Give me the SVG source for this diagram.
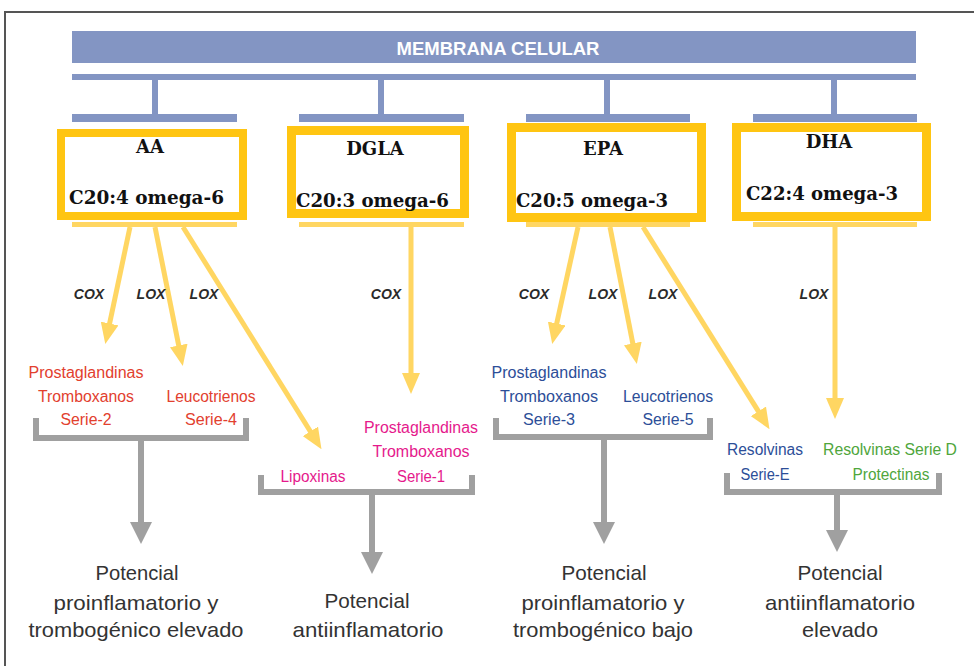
<svg xmlns="http://www.w3.org/2000/svg" width="974" height="666" viewBox="0 0 974 666">
<style>
.blue{fill:#8395C3}
.ybar{fill:#FFD662}
.box{fill:#fff;stroke:#FFC512}
.bt{font-family:"DejaVu Serif","Liberation Serif",serif;font-weight:bold;font-size:18px;fill:#111}
.enz{font-family:"Liberation Sans",Arial,sans-serif;font-weight:bold;font-style:italic;font-size:14px;fill:#2a2a2a;text-anchor:middle}
.lb{font-family:"Liberation Sans",Arial,sans-serif;font-size:16px;text-anchor:middle}
.red{fill:#E2402E}.pink{fill:#E5198C}.nav{fill:#2C4E98}.grn{fill:#4FA63C}
.res{font-family:"Liberation Sans",Arial,sans-serif;font-size:21px;fill:#333;text-anchor:middle}
.ya{fill:none;stroke:#FFD662;stroke-width:5}
.ga{fill:none;stroke:#A0A0A0;stroke-width:6}
</style>
<defs>
<marker id="yh" markerUnits="userSpaceOnUse" markerWidth="21" markerHeight="18" viewBox="0 0 21 18" refX="1" refY="9" orient="auto"><path d="M0,0 L21,9 L0,18 z" fill="#FFD662"/></marker>
<marker id="gh" markerUnits="userSpaceOnUse" markerWidth="22" markerHeight="22" viewBox="0 0 22 22" refX="1" refY="11" orient="auto"><path d="M0,0 L22,11 L0,22 z" fill="#A0A0A0"/></marker>
</defs>
<rect width="974" height="666" fill="#fff"/>
<path d="M5,666 V12 H974" fill="none" stroke="#555" stroke-width="2"/>

<g id="membrana">
<rect class="blue" x="72" y="31" width="844" height="32"/>
<text x="498" y="55" font-family="Liberation Sans,Arial,sans-serif" font-weight="bold" font-size="18" fill="#fff" text-anchor="middle" textLength="203" lengthAdjust="spacingAndGlyphs">MEMBRANA CELULAR</text>
<rect class="blue" x="72" y="74" width="844" height="6"/>
<rect class="blue" x="152" y="80" width="6" height="34"/>
<rect class="blue" x="378" y="80" width="6" height="34"/>
<rect class="blue" x="604" y="80" width="6" height="34"/>
<rect class="blue" x="831" y="80" width="6" height="34"/>
<rect class="blue" x="72" y="114" width="165" height="8"/>
<rect class="blue" x="299" y="114" width="165" height="8"/>
<rect class="blue" x="526" y="114" width="164" height="8"/>
<rect class="blue" x="753" y="114" width="164" height="8"/>
</g>

<g id="bars">
<rect class="ybar" x="72" y="222" width="165" height="5"/>
<rect class="ybar" x="299" y="222" width="165" height="5"/>
<rect class="ybar" x="526" y="222" width="164" height="5"/>
<rect class="ybar" x="753" y="222" width="164" height="5"/>
</g>

<g id="connectors">
<line class="ya" x1="130" y1="227" x2="109.4" y2="324.5" marker-end="url(#yh)"/>
<line class="ya" x1="155" y1="227" x2="178.9" y2="346.4" marker-end="url(#yh)"/>
<line class="ya" x1="183" y1="227" x2="310.9" y2="432.2" marker-end="url(#yh)"/>
<line class="ya" x1="411" y1="227" x2="411" y2="374" marker-end="url(#yh)"/>
<line class="ya" x1="578" y1="227" x2="556.5" y2="324.5" marker-end="url(#yh)"/>
<line class="ya" x1="610" y1="227" x2="633" y2="344.4" marker-end="url(#yh)"/>
<line class="ya" x1="643" y1="227" x2="758.9" y2="412.2" marker-end="url(#yh)"/>
<line class="ya" x1="835" y1="227" x2="835" y2="399" marker-end="url(#yh)"/>
<path class="ga" d="M36,418 V438 H246 V418"/>
<path class="ga" d="M261,475 V492 H472 V475"/>
<path class="ga" d="M496,418 V437 H710 V418"/>
<path class="ga" d="M727,473 V492 H939 V473"/>
<line class="ga" x1="141" y1="438" x2="141" y2="523" marker-end="url(#gh)"/>
<line class="ga" x1="372" y1="492" x2="372" y2="553" marker-end="url(#gh)"/>
<line class="ga" x1="604" y1="437" x2="604" y2="523" marker-end="url(#gh)"/>
<line class="ga" x1="837" y1="492" x2="837" y2="531" marker-end="url(#gh)"/>
<text class="enz" x="89" y="299">COX</text>
<text class="enz" x="151" y="299">LOX</text>
<text class="enz" x="204" y="299">LOX</text>
<text class="enz" x="386" y="299">COX</text>
<text class="enz" x="534" y="299">COX</text>
<text class="enz" x="603" y="299">LOX</text>
<text class="enz" x="663" y="299">LOX</text>
<text class="enz" x="814" y="299">LOX</text>
</g>

<g id="AA">
<rect class="box" x="61" y="133" width="182" height="83" stroke-width="8"/>
<text class="bt" x="150" y="153" text-anchor="middle">AA</text>
<text class="bt" x="69" y="204" textLength="155" lengthAdjust="spacingAndGlyphs">C20:4 omega-6</text>
</g>
<g id="DGLA">
<rect class="box" x="291.5" y="130.5" width="173" height="83" stroke-width="9"/>
<text class="bt" x="375" y="155" text-anchor="middle">DGLA</text>
<text class="bt" x="296" y="207" textLength="153" lengthAdjust="spacingAndGlyphs">C20:3 omega-6</text>
</g>
<g id="EPA">
<rect class="box" x="511.5" y="127.5" width="190" height="90" stroke-width="9"/>
<text class="bt" x="603" y="155" text-anchor="middle">EPA</text>
<text class="bt" x="516" y="207" textLength="152" lengthAdjust="spacingAndGlyphs">C20:5 omega-3</text>
</g>
<g id="DHA">
<rect class="box" x="736.5" y="127.5" width="190" height="89" stroke-width="9"/>
<text class="bt" x="829" y="148" text-anchor="middle">DHA</text>
<text class="bt" x="746" y="200" textLength="152" lengthAdjust="spacingAndGlyphs">C22:4 omega-3</text>
</g>

<g id="pg2">
<text class="lb red" x="86" y="378" textLength="115" lengthAdjust="spacingAndGlyphs">Prostaglandinas</text>
<text class="lb red" x="86" y="402" textLength="96" lengthAdjust="spacingAndGlyphs">Tromboxanos</text>
<text class="lb red" x="86" y="425" textLength="51" lengthAdjust="spacingAndGlyphs">Serie-2</text>
</g>
<g id="lt4">
<text class="lb red" x="211" y="402" textLength="89" lengthAdjust="spacingAndGlyphs">Leucotrienos</text>
<text class="lb red" x="211" y="425" textLength="52" lengthAdjust="spacingAndGlyphs">Serie-4</text>
</g>
<g id="lipoxinas">
<text class="lb pink" x="313" y="482" textLength="65" lengthAdjust="spacingAndGlyphs">Lipoxinas</text>
</g>
<g id="pg1">
<text class="lb pink" x="421" y="433" textLength="114" lengthAdjust="spacingAndGlyphs">Prostaglandinas</text>
<text class="lb pink" x="421" y="457" textLength="97" lengthAdjust="spacingAndGlyphs">Tromboxanos</text>
<text class="lb pink" x="421" y="482" textLength="48" lengthAdjust="spacingAndGlyphs">Serie-1</text>
</g>
<g id="pg3">
<text class="lb nav" x="549" y="378" textLength="115" lengthAdjust="spacingAndGlyphs">Prostaglandinas</text>
<text class="lb nav" x="549" y="402" textLength="98" lengthAdjust="spacingAndGlyphs">Tromboxanos</text>
<text class="lb nav" x="549" y="425" textLength="52" lengthAdjust="spacingAndGlyphs">Serie-3</text>
</g>
<g id="lt5">
<text class="lb nav" x="668" y="402" textLength="90" lengthAdjust="spacingAndGlyphs">Leucotrienos</text>
<text class="lb nav" x="668" y="425" textLength="51" lengthAdjust="spacingAndGlyphs">Serie-5</text>
</g>
<g id="resE">
<text class="lb nav" x="765" y="455" textLength="76" lengthAdjust="spacingAndGlyphs">Resolvinas</text>
<text class="lb nav" x="765" y="480" textLength="49" lengthAdjust="spacingAndGlyphs">Serie-E</text>
</g>
<g id="resD">
<text class="lb grn" x="890" y="455" textLength="134" lengthAdjust="spacingAndGlyphs">Resolvinas Serie D</text>
<text class="lb grn" x="891" y="480" textLength="77" lengthAdjust="spacingAndGlyphs">Protectinas</text>
</g>

<g id="res-AA">
<text class="res" x="137" y="580" textLength="83" lengthAdjust="spacingAndGlyphs">Potencial</text>
<text class="res" x="136" y="610" textLength="165" lengthAdjust="spacingAndGlyphs">proinflamatorio y</text>
<text class="res" x="136" y="637" textLength="215" lengthAdjust="spacingAndGlyphs">trombogénico elevado</text>
</g>
<g id="res-DGLA">
<text class="res" x="367" y="608" textLength="85" lengthAdjust="spacingAndGlyphs">Potencial</text>
<text class="res" x="368" y="637" textLength="151" lengthAdjust="spacingAndGlyphs">antiinflamatorio</text>
</g>
<g id="res-EPA">
<text class="res" x="604" y="580" textLength="85" lengthAdjust="spacingAndGlyphs">Potencial</text>
<text class="res" x="603" y="610" textLength="163" lengthAdjust="spacingAndGlyphs">proinflamatorio y</text>
<text class="res" x="603" y="637" textLength="180" lengthAdjust="spacingAndGlyphs">trombogénico bajo</text>
</g>
<g id="res-DHA">
<text class="res" x="840" y="580" textLength="85" lengthAdjust="spacingAndGlyphs">Potencial</text>
<text class="res" x="840" y="610" textLength="150" lengthAdjust="spacingAndGlyphs">antiinflamatorio</text>
<text class="res" x="840" y="637" textLength="76" lengthAdjust="spacingAndGlyphs">elevado</text>
</g>
</svg>
